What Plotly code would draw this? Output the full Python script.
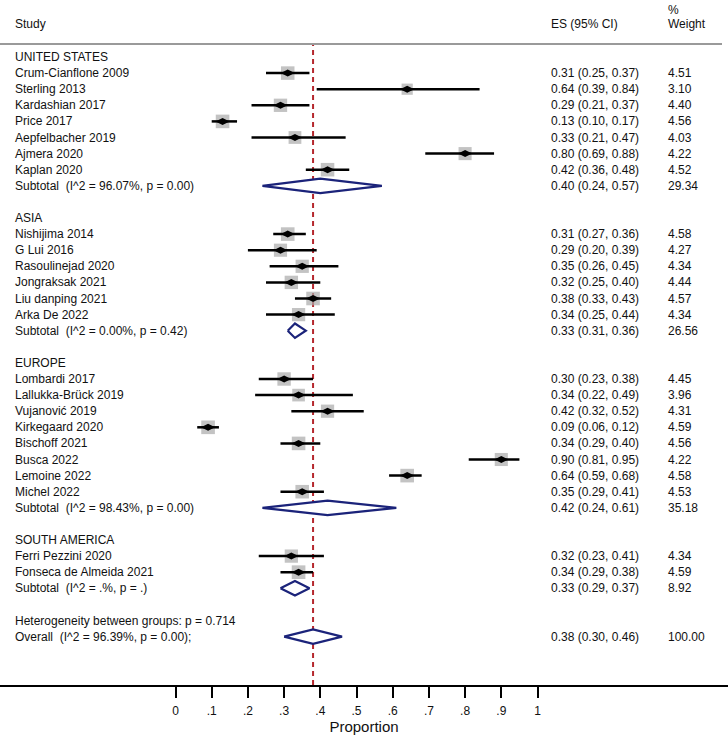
import plotly.graph_objects as go
import math

# ---------------- data ----------------
groups = ["UNITED STATES", "ASIA", "EUROPE", "SOUTH AMERICA"]

us_studies = ["Crum-Cianflone 2009", "Sterling 2013", "Kardashian 2017", "Price 2017",
              "Aepfelbacher 2019", "Ajmera 2020", "Kaplan 2020"]
us_es = [0.31, 0.64, 0.29, 0.13, 0.33, 0.80, 0.42]
us_lo = [0.25, 0.39, 0.21, 0.10, 0.21, 0.69, 0.36]
us_hi = [0.37, 0.84, 0.37, 0.17, 0.47, 0.88, 0.48]
us_w = [4.51, 3.10, 4.40, 4.56, 4.03, 4.22, 4.52]

asia_studies = ["Nishijima 2014", "G Lui 2016", "Rasoulinejad 2020", "Jongraksak 2021",
                "Liu danping 2021", "Arka De 2022"]
asia_es = [0.31, 0.29, 0.35, 0.32, 0.38, 0.34]
asia_lo = [0.27, 0.20, 0.26, 0.25, 0.33, 0.25]
asia_hi = [0.36, 0.39, 0.45, 0.40, 0.43, 0.44]
asia_w = [4.58, 4.27, 4.34, 4.44, 4.57, 4.34]

eu_studies = ["Lombardi 2017", "Lallukka-Brück 2019", "Vujanović 2019", "Kirkegaard 2020",
              "Bischoff 2021", "Busca 2022", "Lemoine 2022", "Michel 2022"]
eu_es = [0.30, 0.34, 0.42, 0.09, 0.34, 0.90, 0.64, 0.35]
eu_lo = [0.23, 0.22, 0.32, 0.06, 0.29, 0.81, 0.59, 0.29]
eu_hi = [0.38, 0.49, 0.52, 0.12, 0.40, 0.95, 0.68, 0.41]
eu_w = [4.45, 3.96, 4.31, 4.59, 4.56, 4.22, 4.58, 4.53]

sa_studies = ["Ferri Pezzini 2020", "Fonseca de Almeida 2021"]
sa_es = [0.32, 0.34]
sa_lo = [0.23, 0.29]
sa_hi = [0.41, 0.38]
sa_w = [4.34, 4.59]

sub_labels = ["Subtotal  (I^2 = 96.07%, p = 0.00)", "Subtotal  (I^2 = 0.00%, p = 0.42)",
              "Subtotal  (I^2 = 98.43%, p = 0.00)", "Subtotal  (I^2 = .%, p = .)"]
sub_es = [0.40, 0.33, 0.42, 0.33]
sub_lo = [0.24, 0.31, 0.24, 0.29]
sub_hi = [0.57, 0.36, 0.61, 0.37]
sub_w = [29.34, 26.56, 35.18, 8.92]

het_label = "Heterogeneity between groups: p = 0.714"
overall_label = "Overall  (I^2 = 96.39%, p = 0.00);"
overall_es, overall_lo, overall_hi, overall_w = 0.38, 0.30, 0.46, 100.00

tick_vals = [0, 0.1, 0.2, 0.3, 0.4, 0.5, 0.6, 0.7, 0.8, 0.9, 1]
tick_text = ["0", ".1", ".2", ".3", ".4", ".5", ".6", ".7", ".8", ".9", "1"]

# ---------------- layout constants ----------------
W, H = 728, 735
TOP, BOT = 44, 685
ROW0, ROWH = 57, 16.1
XPIX0, XPIX1 = 175.5, 537.5  # pixel of 0 and 1
scale = XPIX1 - XPIX0
xr = [-XPIX0 / scale, (W - XPIX0) / scale]
yr = [(BOT - ROW0) / ROWH, (TOP - ROW0) / ROWH]

FONT = "Liberation Sans, Arial, Helvetica, sans-serif"
TXT = "#111111"
NAVY = "#1b237a"

fig = go.Figure()
annotations = []

def text(row, s, x_px, size=12, bold=False):
    annotations.append(dict(
        x=x_px / W, xref="paper", y=row, yref="y", text=("<b>%s</b>" % s) if bold else s,
        showarrow=False, xanchor="left", yanchor="middle",
        font=dict(family=FONT, size=size, color=TXT)))

def nb(s):
    return s.replace("  ", "\u00a0\u00a0")

blocks = [
    (us_studies, us_es, us_lo, us_hi, us_w),
    (asia_studies, asia_es, asia_lo, asia_hi, asia_w),
    (eu_studies, eu_es, eu_lo, eu_hi, eu_w),
    (sa_studies, sa_es, sa_lo, sa_hi, sa_w),
]

row = 0
sq_x, sq_y, sq_s = [], [], []
ci_x, ci_y = [], []
dm_x, dm_y = [], []
for gi, (names, es, lo, hi, w) in enumerate(blocks):
    text(row, groups[gi], 13)
    row += 1
    for n, e, l, h, ww in zip(names, es, lo, hi, w):
        text(row, n, 13)
        text(row, "%.2f (%.2f, %.2f)" % (e, l, h), 549)
        text(row, "%.2f" % ww, 666)
        sq_x.append(e); sq_y.append(row); sq_s.append(13.5 * math.sqrt(ww / 4.5))
        ci_x += [l, h, None]; ci_y += [row, row, None]
        row += 1
    # subtotal
    text(row, nb(sub_labels[gi]), 13)
    text(row, "%.2f (%.2f, %.2f)" % (sub_es[gi], sub_lo[gi], sub_hi[gi]), 549)
    text(row, "%.2f" % sub_w[gi], 666)
    e, l, h = sub_es[gi], sub_lo[gi], sub_hi[gi]
    dm_x += [l, e, h, e, l, None]
    dm_y += [row, row - 0.45, row, row + 0.45, row, None]
    row += 2

text(row, het_label, 13)
row += 1
text(row, nb(overall_label), 13)
text(row, "%.2f (%.2f, %.2f)" % (overall_es, overall_lo, overall_hi), 549)
text(row, "%.2f" % overall_w, 666)
dm_x += [overall_lo, overall_es, overall_hi, overall_es, overall_lo, None]
dm_y += [row, row - 0.45, row, row + 0.45, row, None]

# reference dashed line at overall ES
fig.add_shape(type="line", x0=overall_es, x1=overall_es, xref="x", y0=0, y1=1, yref="paper",
              line=dict(color="#b5272d", width=2, dash="5px,4px"), layer="below")

# squares
fig.add_trace(go.Scatter(x=sq_x, y=sq_y, mode="markers",
                         marker=dict(symbol="square", size=sq_s, color="#a9a9a9", line=dict(width=0)),
                         hoverinfo="skip"))
# CI lines
fig.add_trace(go.Scatter(x=ci_x, y=ci_y, mode="lines", line=dict(color="black", width=2.5),
                         hoverinfo="skip"))
# point estimates
fig.add_trace(go.Scatter(x=sq_x, y=sq_y, mode="markers",
                         marker=dict(symbol="diamond-wide", size=10, color="black", line=dict(width=0)),
                         hoverinfo="skip"))
# pooled diamonds
fig.add_trace(go.Scatter(x=dm_x, y=dm_y, mode="lines", fill="toself", fillcolor="white",
                         line=dict(color=NAVY, width=2.2), hoverinfo="skip"))

# headers (y given in pixels, converted to paper below)
hdr = [("Study", 13, 24), ("ES (95% CI)", 549, 24), ("%", 666, 10), ("Weight", 666, 24)]
plot_h = BOT - TOP
for s, xp, yp in hdr:
    annotations.append(dict(x=xp / W, xref="paper", y=1 + (TOP - yp) / plot_h, yref="paper",
                            yanchor="middle", xanchor="left", text=s, showarrow=False,
                            font=dict(family=FONT, size=12, color=TXT)))

# header rule
fig.add_shape(type="line", xref="paper", yref="paper", x0=0, x1=722 / W, y0=1, y1=1,
              line=dict(color="#9a9a9a", width=2))

fig.update_layout(
    width=W, height=H,
    margin=dict(l=0, r=0, t=TOP, b=H - BOT),
    paper_bgcolor="white", plot_bgcolor="white",
    showlegend=False,
    annotations=annotations,
    xaxis=dict(range=xr, tickvals=tick_vals, ticktext=tick_text, showgrid=False, zeroline=False,
               showline=True, linecolor="black", linewidth=2, ticks="outside", ticklen=11,
               tickwidth=2, tickcolor="black", tickfont=dict(family=FONT, size=12, color=TXT),
               ticklabelstandoff=3,
               title=dict(text="Proportion", font=dict(family=FONT, size=15, color=TXT), standoff=2),
               fixedrange=True),
    yaxis=dict(range=yr, visible=False, fixedrange=True),
)

fig.write_html("out.html", config={"displayModeBar": False},
               post_script="document.body.style.margin='0';document.body.style.overflow='hidden';")
